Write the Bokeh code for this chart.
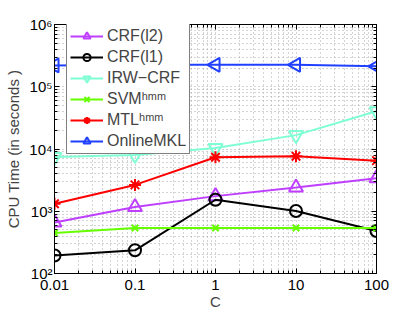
from bokeh.plotting import figure
from bokeh.models import FixedTicker, Legend, LogAxis, CustomJSTickFormatter
from bokeh.embed import file_html
from bokeh.resources import INLINE

C = [0.01, 0.1, 1, 10, 100]
crf_l2 = [660, 1170, 1750, 2400, 3400]
crf_l1 = [195, 236, 1530, 1010, 482]
irw_crf = [7450, 8000, 10400, 16700, 40500]
svm_hmm = [448, 538, 538, 538, 538]
mtl_hmm = [1320, 2650, 7360, 7640, 6500]
online_mkl = [220000, 225000, 225000, 225000, 213000]

x_ticks = [0.01, 0.1, 1, 10, 100]
x_tick_labels = ["0.01", "0.1", "1", "10", "100"]
y_ticks = [1e2, 1e3, 1e4, 1e5, 1e6]
y_tick_labels = ["10\u00b2", "10\u00b3", "10\u2074", "10\u2075", "10\u2076"]

FONT = "Liberation Sans"

p = figure(width=415, height=312, x_axis_type="log", y_axis_type="log",
           x_range=(0.01, 100), y_range=(1e2, 1e6),
           output_backend="svg", toolbar_location=None,
           min_border_left=54, min_border_right=39,
           min_border_top=24, min_border_bottom=38)

x_minor = [m * 10.0 ** k for k in range(-2, 2) for m in range(2, 10)]
y_minor = [m * 10.0 ** k for k in range(2, 6) for m in range(2, 10)]
xt = FixedTicker(ticks=x_ticks, minor_ticks=x_minor)
yt = FixedTicker(ticks=y_ticks, minor_ticks=y_minor)

fmt_code = """
let best = -1, bd = 1e9;
for (let i = 0; i < tv.length; i++) {
  const d = Math.abs(Math.log10(tv[i]) - Math.log10(tick));
  if (d < bd) { bd = d; best = i; }
}
return (best >= 0 && bd < 1e-6) ? tl[best] : '';
"""
p.xaxis.ticker = xt
p.yaxis.ticker = yt
p.xaxis.formatter = CustomJSTickFormatter(args=dict(tv=x_ticks, tl=x_tick_labels), code=fmt_code)
p.yaxis.formatter = CustomJSTickFormatter(args=dict(tv=y_ticks, tl=y_tick_labels), code=fmt_code)

for ax in (p.xaxis[0], p.yaxis[0]):
    ax.major_tick_in = 5
    ax.major_tick_out = 0
    ax.minor_tick_in = 3
    ax.minor_tick_out = 0
    ax.major_label_text_font = FONT
    ax.major_label_text_font_size = "15px"
    ax.major_label_text_color = "black"
    ax.axis_label_text_font = FONT
    ax.axis_label_text_font_size = "15px"
    ax.axis_label_text_font_style = "normal"
    ax.axis_line_color = "black"

p.xaxis.major_label_standoff = 6
p.xaxis.axis_label = "C"
p.xaxis.axis_label_standoff = 0
p.yaxis.major_label_standoff = 2
p.yaxis.axis_label = "CPU Time (in seconds )"
p.yaxis.axis_label_standoff = 4

# mirrored inward ticks on top and right
for loc, tk in (("above", xt), ("right", yt)):
    ax = LogAxis(ticker=tk, major_tick_in=5, major_tick_out=0,
                 minor_tick_in=3, minor_tick_out=0,
                 major_label_text_font_size="1px", major_label_text_alpha=0,
                 major_label_standoff=0, axis_line_color="black")
    p.add_layout(ax, loc)

for g in (p.xgrid[0], p.ygrid[0]):
    g.grid_line_color = "#a8a8a8"
    g.grid_line_dash = "1 3"
    g.grid_line_width = 1
    g.minor_grid_line_color = "#a8a8a8"
    g.minor_grid_line_dash = "1 3"
    g.minor_grid_line_width = 1

p.outline_line_color = "black"
p.outline_line_width = 1
p.background_fill_color = "white"

series = [
    ("CRF(l2)", crf_l2, "#bf3fff", "triangle", 14, 0.0),
    ("CRF(l1)", crf_l1, "black", "circle", 12, 0.0),
    ("IRW\u2212CRF", irw_crf, "#7fffd4", "inverted_triangle", 14, 0.0),
    ("SVM\u02b0\u1d50\u1d50", svm_hmm, "#66ff00", "x", 9, 0.0),
    ("MTL\u02b0\u1d50\u1d50", mtl_hmm, "#ff0000", "asterisk", 12, 0.0),
    ("OnlineMKL", online_mkl, "#2040ff", "triangle", 14, 1.5707963),
]

items = []
for label, ys, color, marker, size, angle in series:
    r1 = p.line(C, ys, line_color=color, line_width=2)
    r2 = p.scatter(C, ys, marker=marker, size=size, angle=angle,
                   line_color=color, line_width=2, fill_color=None)
    items.append((label, [r1, r2]))

legend = Legend(items=items, location=(12, 119))
legend.label_text_font = FONT
legend.label_text_font_size = "16px"
legend.glyph_width = 33
legend.glyph_height = 18
legend.label_height = 18
legend.spacing = 3
legend.padding = 3
legend.margin = 0
legend.label_standoff = 4
legend.border_line_color = "black"
legend.border_line_width = 1
legend.background_fill_alpha = 1.0
p.add_layout(legend, "center")

open("out.html", "w").write(file_html(p, INLINE))
